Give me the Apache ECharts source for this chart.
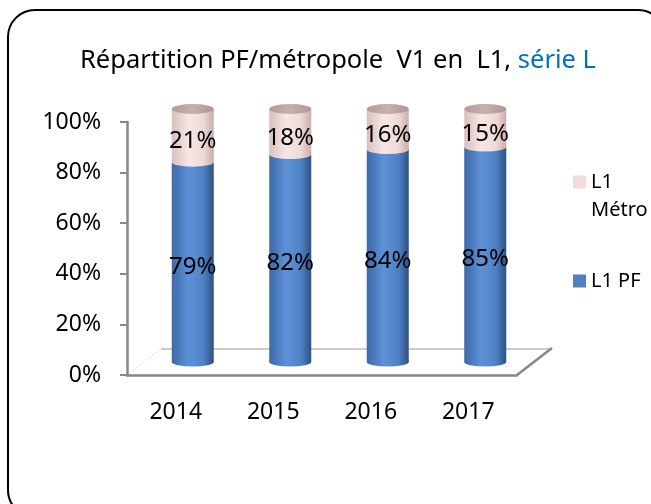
<!doctype html>
<html lang="fr">
 <head>
  <meta charset="UTF-8">
  <style type="text/css">
  html,body{margin:0;padding:0;background:#fff;}
  #ecm1{width:651px;height:504px;}
  </style>
  <script src="https://cdn.jsdelivr.net/npm/echarts@6/dist/echarts.min.js"></script>
  <title>Répartition PF/métropole V1 en L1</title>
 </head>
 <body>
    <div id="ecm1"></div>
    <script type="text/javascript">
    // données
    var annees = ['2014', '2015', '2016', '2017'];
    var l1PF = [79, 82, 84, 85];
    var l1Metro = [21, 18, 16, 15];
    var yTicks = [0, 20, 40, 60, 80, 100];

    var totaux = [];
    for (var i = 0; i < annees.length; i++) {
        totaux[i] = l1PF[i] + l1Metro[i];
    }

    function grad(stops) {
        return new echarts.graphic.LinearGradient(0, 0, 1, 0, stops);
    }
    var bleu = grad([
        {offset: 0, color: '#3d69a8'},
        {offset: 0.4, color: '#5d91d6'},
        {offset: 0.75, color: '#4f82c5'},
        {offset: 1, color: '#2e5182'}
    ]);
    var rose = grad([
        {offset: 0, color: '#d9bfbe'},
        {offset: 0.4, color: '#f7e6e5'},
        {offset: 0.75, color: '#efd9d8'},
        {offset: 1, color: '#c9adac'}
    ]);
    var dessus = grad([
        {offset: 0, color: '#b59c9c'},
        {offset: 0.5, color: '#c7b0b0'},
        {offset: 1, color: '#b09595'}
    ]);

    var axeGris = '#878787';
    var police = 'Noto Sans';

    var myChart = echarts.init(document.getElementById('ecm1'));
    var option1 = {
        animation: false,
        textStyle: {fontFamily: police},
        title: {
            left: 75,
            top: 43,
            text: '{a|Répartition PF/métropole  V1 en  L1, }{b|série L}',
            textStyle: {
                rich: {
                    a: {fontFamily: police, fontSize: 25.5, fontWeight: 'normal', color: '#000'},
                    b: {fontFamily: police, fontSize: 25.5, fontWeight: 'normal', color: '#0070c0'}
                }
            }
        },
        legend: [{
            orient: 'vertical',
            left: 568,
            top: 135,
            itemWidth: 13,
            itemHeight: 13,
            icon: 'rect',
            data: [{name: 'L1 Métro', itemStyle: {color: '#f2dcdb'}}],
            formatter: function () { return '\u00a0\nL1\nMétro'; },
            textStyle: {fontFamily: police, fontSize: 20, color: '#000', lineHeight: 28}
        }, {
            orient: 'vertical',
            left: 568,
            top: 266,
            itemWidth: 13,
            itemHeight: 13,
            icon: 'rect',
            data: [{name: 'L1 PF', itemStyle: {color: '#4f81bd'}}],
            textStyle: {fontFamily: police, fontSize: 20, color: '#000'}
        }],
        graphic: [{
            type: 'rect',
            shape: {x: 8, y: 10, width: 657, height: 507, r: 27},
            style: {fill: 'none', stroke: '#000', lineWidth: 2},
            silent: true
        }, {
            // bord arrière du plancher 3D
            type: 'polyline',
            shape: {points: [[161, 349], [552, 349]]},
            style: {stroke: '#9a9a9a', lineWidth: 1},
            silent: true
        }, {
            type: 'line',
            shape: {x1: 127, y1: 375, x2: 161, y2: 349},
            style: {stroke: '#dddddd', lineWidth: 1, lineDash: [2, 2]},
            silent: true
        }, {
            type: 'line',
            shape: {x1: 517, y1: 375, x2: 552, y2: 348},
            style: {stroke: axeGris, lineWidth: 2.5},
            silent: true
        }],
        grid: [
            {left: 127, top: 122, width: 390, height: 253},
            {left: 144, top: 109, width: 390, height: 253}
        ],
        xAxis: [{
            gridIndex: 0,
            type: 'category',
            data: annees,
            axisLine: {lineStyle: {color: axeGris, width: 2.5}},
            axisTick: {length: 7, lineStyle: {color: axeGris, width: 2}},
            axisLabel: {margin: 26, fontSize: 23, color: '#000', fontFamily: police}
        }, {
            gridIndex: 1,
            type: 'category',
            data: annees,
            show: false
        }],
        yAxis: [{
            gridIndex: 0,
            type: 'value',
            min: 0,
            max: 100,
            interval: 20,
            axisLine: {show: true, lineStyle: {color: axeGris, width: 2.5}},
            axisTick: {show: true, length: 7, lineStyle: {color: axeGris, width: 2}},
            splitLine: {show: false},
            axisLabel: {
                margin: 26, fontSize: 23, color: '#000', fontFamily: police,
                formatter: function (v) { return yTicks.indexOf(v) >= 0 ? v + '%' : ''; }
            }
        }, {
            gridIndex: 1,
            type: 'value',
            min: 0,
            max: 100,
            show: false
        }],
        series: [{
            name: 'L1 PF',
            type: 'bar',
            stack: 'total',
            xAxisIndex: 1,
            yAxisIndex: 1,
            barWidth: 42,
            z: 2,
            itemStyle: {color: bleu},
            label: {
                show: true, position: 'inside', offset: [0, 5],
                formatter: '{c}%', fontSize: 24, color: '#000', fontFamily: police
            },
            data: l1PF
        }, {
            name: 'L1 Métro',
            type: 'bar',
            stack: 'total',
            xAxisIndex: 1,
            yAxisIndex: 1,
            barWidth: 42,
            z: 2,
            itemStyle: {color: rose},
            label: {
                show: true, position: 'inside', offset: [0, 6],
                formatter: '{c}%', fontSize: 24, color: '#000', fontFamily: police
            },
            data: l1Metro
        }, {
            // fond du cylindre
            name: 'bas',
            type: 'pictorialBar',
            xAxisIndex: 1,
            yAxisIndex: 1,
            symbol: 'circle',
            symbolSize: [42, 9],
            symbolPosition: 'start',
            symbolOffset: [0, '50%'],
            z: 1,
            itemStyle: {color: bleu},
            data: l1PF
        }, {
            // jonction PF / Métro
            name: 'jonction',
            type: 'pictorialBar',
            xAxisIndex: 1,
            yAxisIndex: 1,
            symbol: 'circle',
            symbolSize: [42, 9],
            symbolPosition: 'end',
            symbolOffset: [0, '-50%'],
            z: 3,
            itemStyle: {color: rose},
            data: l1PF
        }, {
            // dessus du cylindre
            name: 'haut',
            type: 'pictorialBar',
            xAxisIndex: 1,
            yAxisIndex: 1,
            symbol: 'circle',
            symbolSize: [42, 10],
            symbolPosition: 'end',
            symbolOffset: [0, '-50%'],
            z: 3,
            itemStyle: {color: dessus},
            data: totaux
        }]
    };
    myChart.setOption(option1);
    </script>
 </body>
</html>
